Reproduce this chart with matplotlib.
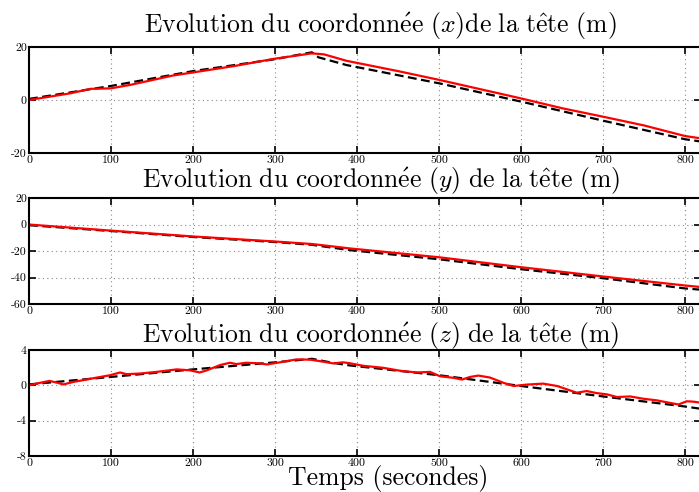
import matplotlib
matplotlib.use("Agg")
import matplotlib.pyplot as plt

plt.rcParams['font.family'] = ['cmr10', 'DejaVu Serif']
plt.rcParams['mathtext.fontset'] = 'cm'
plt.rcParams['axes.unicode_minus'] = False
plt.rcParams['axes.formatter.use_mathtext'] = False

# Trajectoire de référence (noir, tirets) et estimée (rouge), par coordonnée
t_ref_x = [0, 100, 200, 300, 345, 353, 387, 500, 600, 700, 800, 820]
x_ref = [0.4, 5.3, 10.9, 15.4, 18.0, 16.1, 13.2, 6.3, -0.6, -7.8, -14.8, -15.7]
t_est_x = [0, 50, 75, 100, 125, 150, 175, 200, 250, 300, 325, 345, 360, 387,
           450, 500, 550, 600, 650, 700, 750, 800, 820]
x_est = [0.0, 2.5, 4.2, 4.4, 5.8, 7.5, 9.2, 10.4, 12.8, 15.6, 16.7, 17.6, 17.2, 14.8,
         10.9, 7.6, 4.1, 0.6, -3.1, -6.3, -9.6, -13.6, -14.5]

t_ref_y = [0, 100, 200, 300, 345, 391, 500, 600, 700, 800, 820]
y_ref = [-0.5, -4.9, -9.4, -13.2, -15.3, -19.3, -26.2, -33.7, -40.5, -48.2, -49.2]
t_est_y = [0, 100, 200, 300, 345, 391, 500, 600, 700, 800, 820]
y_est = [0.0, -4.6, -9.0, -12.8, -14.7, -18.0, -24.7, -32.2, -39.2, -46.0, -47.2]

t_ref_z = [0, 100, 200, 300, 345, 370, 391, 500, 600, 700, 800, 820]
z_ref = [0.1, 0.95, 1.8, 2.6, 3.0, 2.55, 2.25, 1.14, -0.08, -1.26, -2.4, -2.67]
t_est_z = [0, 13, 25, 34, 42, 54, 70, 83, 99, 111, 119, 135, 156, 180, 196, 208,
           217, 233, 245, 253, 265, 282, 290, 306, 326, 343, 359, 371, 383, 391,
           408, 432, 453, 473, 489, 501, 518, 528, 538, 548, 562, 579, 591, 607,
           627, 644, 656, 668, 680, 692, 705, 717, 733, 749, 766, 782, 792, 802,
           810, 820]
z_est = [0.0, 0.27, 0.5, 0.3, 0.1, 0.38, 0.65, 0.88, 1.14, 1.45, 1.26, 1.33, 1.52,
         1.8, 1.7, 1.45, 1.7, 2.29, 2.55, 2.4, 2.55, 2.48, 2.36, 2.6, 2.93, 2.9,
         2.67, 2.48, 2.6, 2.5, 2.2, 1.98, 1.64, 1.45, 1.52, 1.03, 0.84, 0.65, 0.95,
         1.1, 0.88, 0.27, -0.08, 0.08, 0.19, -0.08, -0.46, -0.84, -0.65, -0.88,
         -1.03, -1.33, -1.26, -1.52, -1.71, -2.0, -2.17, -1.81, -1.85, -1.98]

# titres en mode math pour avoir les accents en Computer Modern
titres = [r'$\mathrm{Evolution\ du\ coordonn\acute{e}e}\ (x)\mathrm{de\ la\ t\hat{e}te\ (m)}$',
          r'$\mathrm{Evolution\ du\ coordonn\acute{e}e}\ (y)\ \mathrm{de\ la\ t\hat{e}te\ (m)}$',
          r'$\mathrm{Evolution\ du\ coordonn\acute{e}e}\ (z)\ \mathrm{de\ la\ t\hat{e}te\ (m)}$']
yticks = [[-20, 0, 20], [-60, -40, -20, 0, 20], [-8, -4, 0, 4]]
xticks = [0, 100, 200, 300, 400, 500, 600, 700, 800]

fig = plt.figure(figsize=(6.99, 4.92), dpi=100)
bas = [0.689, 0.382, 0.0732]
y_titre = [0.9323, 0.6173, 0.3035]
donnees = [(t_ref_x, x_ref, t_est_x, x_est),
           (t_ref_y, y_ref, t_est_y, y_est),
           (t_ref_z, z_ref, t_est_z, z_est)]

for i in range(3):
    ax = fig.add_axes([0.0415, bas[i], 0.962, 0.2155])
    tr, vr, te, ve = donnees[i]
    ax.plot(tr, vr, 'k--', lw=1.6, dashes=(4, 2))
    ax.plot(te, ve, 'r-', lw=1.6)
    ax.set_xlim(0, 820)
    ax.set_ylim(yticks[i][0], yticks[i][-1])
    ax.set_xticks(xticks)
    ax.set_yticks(yticks[i])
    ax.grid(True, linestyle=(0, (1, 3)), color='#888888', lw=0.8)
    ax.tick_params(direction='in', top=True, right=True, length=5, width=1.2,
                   labelsize=8.5, pad=1.5)
    for s in ax.spines.values():
        s.set_linewidth(1.5)
    fig.text(0.5444, y_titre[i], titres[i], fontsize=18.5, ha='center', va='baseline')

fig.text(0.555, 0.014, 'Temps (secondes)', fontsize=18.5, ha='center', va='baseline')

fig.savefig('out.png', dpi=100)
